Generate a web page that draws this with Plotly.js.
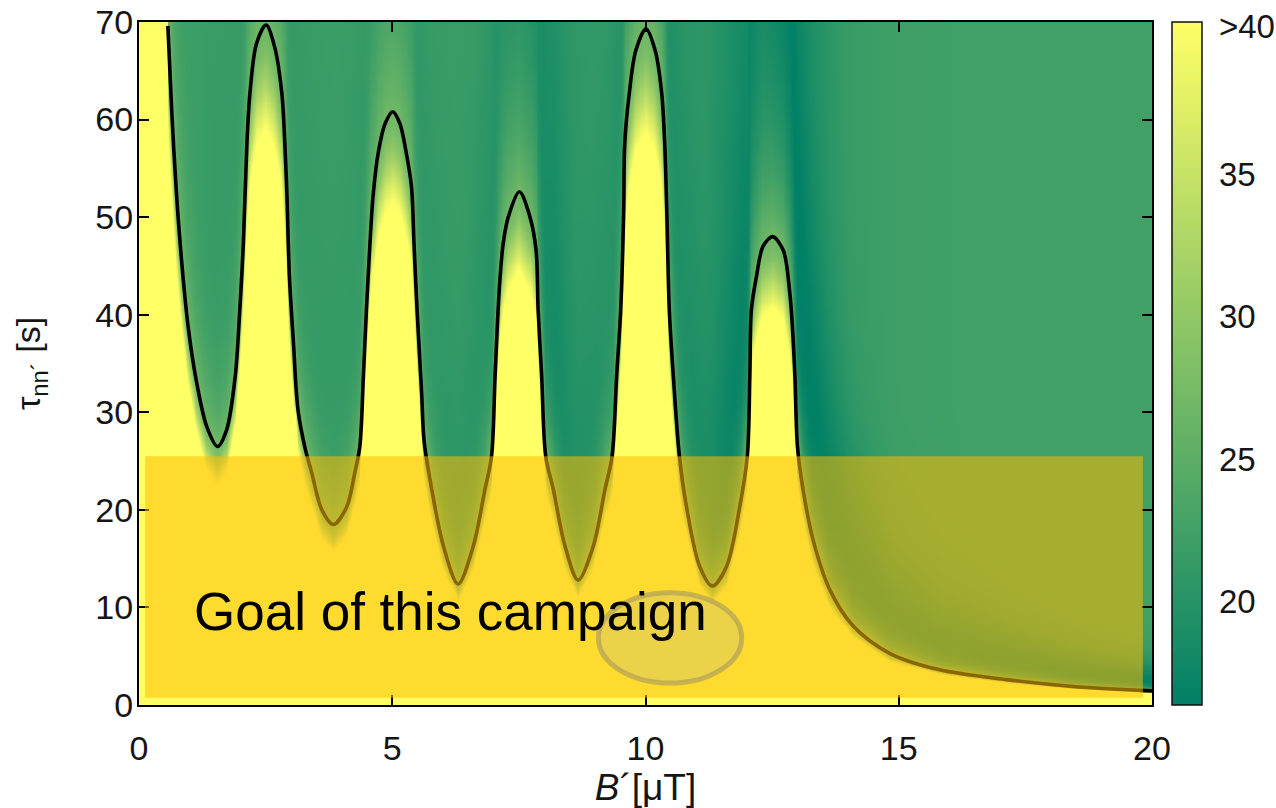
<!DOCTYPE html>
<html>
<head>
<meta charset="utf-8">
<script src="https://cdn.plot.ly/plotly-3.0.1.min.js"></script>
<style>
  html, body { margin: 0; padding: 0; background: #fff; }
  #chart { width: 1276px; height: 808px; }
</style>
</head>
<body>
<div id="chart"></div>
<script>
// Sensitivity boundary: tau_nn' limit versus B' (the black curve)
const curveB = [0.57, 0.645, 0.74, 0.84, 0.97, 1.14, 1.34, 1.55, 1.73, 1.90, 1.99, 2.06, 2.13, 2.19, 2.32, 2.51, 2.68, 2.82, 2.88, 2.92, 2.97, 3.05, 3.14, 3.28, 3.41, 3.61, 3.84, 4.10, 4.26, 4.36, 4.43, 4.49, 4.56, 4.62, 4.72, 4.86, 5.01, 5.15, 5.28, 5.38, 5.43, 5.49, 5.58, 5.63, 5.78, 6.01, 6.30, 6.60, 6.83, 6.96, 7.03, 7.09, 7.13, 7.19, 7.29, 7.51, 7.72, 7.84, 7.88, 7.95, 8.03, 8.18, 8.41, 8.67, 8.97, 9.20, 9.34, 9.43, 9.51, 9.57, 9.59, 9.68, 9.81, 10.01, 10.19, 10.32, 10.38, 10.42, 10.47, 10.55, 10.67, 10.81, 11.07, 11.32, 11.60, 11.86, 12.01, 12.06, 12.09, 12.19, 12.32, 12.51, 12.72, 12.85, 12.90, 12.95, 13.00, 13.11, 13.31, 13.64, 14.10, 14.82, 15.81, 17.13, 18.44, 19.76, 20.0];
const curveTau = [69.6, 61.0, 52.4, 45.6, 38.8, 33.0, 28.5, 26.5, 28.2, 33.7, 40.5, 47.3, 57.5, 62.7, 67.8, 69.7, 67.4, 62.7, 57.5, 52.4, 43.9, 37.1, 30.2, 26.3, 23.8, 20.0, 18.5, 20.3, 23.8, 26.5, 33.7, 40.5, 47.3, 52.1, 56.5, 59.6, 60.8, 59.6, 56.5, 53.1, 47.3, 40.5, 32.0, 27.0, 22.1, 16.3, 12.4, 16.3, 22.1, 25.5, 33.7, 40.5, 43.9, 47.3, 50.0, 52.6, 50.0, 46.6, 40.5, 33.7, 25.5, 22.1, 16.3, 12.8, 16.3, 22.1, 25.5, 33.7, 40.5, 50.7, 57.5, 62.7, 67.1, 69.3, 67.1, 62.7, 57.5, 50.7, 40.5, 33.7, 25.5, 20.3, 14.2, 12.2, 14.2, 20.3, 25.5, 33.7, 40.5, 43.9, 47.0, 48.0, 46.6, 42.2, 38.8, 33.7, 26.5, 22.1, 16.9, 11.8, 8.1, 5.3, 3.6, 2.6, 1.9, 1.5, 1.45];

// Colour-map level far above the boundary, per B'
const bgB     = [0, 1.0, 1.5, 2.0, 3.0, 4.0, 5.5, 6.5, 7.0, 7.9, 8.2, 8.6, 9.2, 10.6, 11.2, 11.6, 11.9, 12.3, 12.8, 13.1, 13.5, 14.0, 15.0, 20.0];
const bgLevel = [22.8, 22.6, 22.0, 22.0, 22.0, 22.0, 21.8, 21.6, 21.2, 20.2, 19.8, 20.8, 21.5, 21.0, 20.6, 19.4, 19.2, 20.5, 19.4, 19.2, 20.2, 21.5, 22.3, 22.5];

// Depth of the darker trough just outside the boundary, per B'
const dipB     = [0, 6, 8, 10, 12, 13, 14, 20];
const dipDepth = [0.5, 1.0, 1.5, 1.5, 2.2, 3.0, 4.2, 6.0];

// Colour bar labels
const cbLabelVals = [20, 25, 30, 35, 40.2];
const cbLabelText = ['20', '25', '30', '35', '>40'];
const cbMarkVals = [20, 25, 30, 35];
const xTicks = [0, 5, 10, 15, 20];
const yTicks = [0, 10, 20, 30, 40, 50, 60, 70];

// ---- field construction ----
function lerp(xs, ys, x) {
  if (x <= xs[0]) return ys[0];
  if (x >= xs[xs.length - 1]) return ys[ys.length - 1];
  let i = 1;
  while (xs[i] < x) i++;
  const t = (x - xs[i - 1]) / (xs[i] - xs[i - 1]);
  return ys[i - 1] + t * (ys[i] - ys[i - 1]);
}

const Z_MIN = 16.37, Z_MAX = 40.35;
const Z_TOP = 46, Z_EDGE = 27, R0 = 0.76, HALO = 0.2, DIPW = 0.7;
const gridX = [], gridY = [];
for (let i = 0; i <= 1000; i++) gridX.push(i * 0.02);
for (let j = 0; j <= 700; j++) gridY.push(j * 0.1);

const boundary = gridX.map(x => x < curveB[0] ? Infinity : lerp(curveB, curveTau, x));
const bgAt = gridX.map(x => lerp(bgB, bgLevel, x));
const dipAt = gridX.map(x => lerp(dipB, dipDepth, x));

const field = gridY.map(y => gridX.map((x, i) => {
  const r = y / boundary[i];
  if (r <= 1) {
    const t = Math.min(1, Math.max(0, (1 - r) / (1 - R0)));
    const s = t * t * (3 - 2 * t);
    return Z_EDGE + (Z_TOP - Z_EDGE) * s;
  }
  const bg = bgAt[i];
  const h = Math.exp(-(r - 1) / HALO);
  const u = (r - 1) / DIPW;
  const g = u * Math.exp(1 - u);
  return bg + (Z_EDGE - bg) * h - dipAt[i] * g;
}));

const font = 'Liberation Sans, Arial, Helvetica, sans-serif';

// plot-area geometry in pixels, used to place the colour bar, its marks and labels
const W = 1276, H = 808, ML = 139, MR = 124, MT = 22, MB = 103;
const plotW = W - ML - MR;
const CB_LEFT = 1172, CB_THICK = 30, CB_TICK = 6, CB_LABEL_GAP = 15;
const pxToPaperX = px => (px - ML) / plotW;
const valToPaperY = v => (v - Z_MIN) / (Z_MAX - Z_MIN);

const heat = {
  type: 'heatmap',
  x: gridX, y: gridY, z: field,
  zmin: Z_MIN, zmax: Z_MAX, zsmooth: false,
  colorscale: [[0, 'rgb(0,128,102)'], [1, 'rgb(255,255,102)']],
  hoverinfo: 'skip',
  colorbar: {
    thickness: CB_THICK, thicknessmode: 'pixels',
    len: 1, lenmode: 'fraction', y: 0, yanchor: 'bottom', ypad: 0,
    x: pxToPaperX(CB_LEFT), xanchor: 'left', xpad: 0,
    outlinewidth: 1.5, outlinecolor: '#111',
    ticks: '', showticklabels: false
  }
};

const line = {
  type: 'scatter', mode: 'lines',
  x: curveB, y: curveTau,
  line: { color: '#000', width: 3.6, shape: 'spline', smoothing: 0.9 },
  hoverinfo: 'skip', showlegend: false
};

const axisCommon = {
  showgrid: false, zeroline: false,
  showline: true, linecolor: '#000', linewidth: 2, mirror: 'allticks',
  ticks: 'inside', ticklen: 10, tickwidth: 2, tickcolor: '#000',
  tickfont: { family: font, size: 34, color: '#151515' }
};

// inside tick marks on both edges of the colour bar
const cbMarks = [];
cbMarkVals.forEach(v => {
  const yp = valToPaperY(v);
  [[CB_LEFT, CB_LEFT + CB_TICK], [CB_LEFT + CB_THICK - CB_TICK, CB_LEFT + CB_THICK]].forEach(([a, b]) => {
    cbMarks.push({ type: 'line', layer: 'above', xref: 'paper', yref: 'paper',
      x0: pxToPaperX(a), x1: pxToPaperX(b), y0: yp, y1: yp,
      line: { color: '#111', width: 1.5 } });
  });
});

const cbLabels = cbLabelVals.map((v, k) => ({
  xref: 'paper', yref: 'paper', x: pxToPaperX(CB_LEFT + CB_THICK + CB_LABEL_GAP), y: valToPaperY(v),
  xanchor: 'left', yanchor: 'middle', showarrow: false, text: cbLabelText[k],
  font: { family: font, size: 33, color: '#151515' }
}));

const layout = {
  width: W, height: H,
  margin: { l: ML, r: MR, t: MT, b: MB },
  paper_bgcolor: '#fff', plot_bgcolor: '#fff',
  showlegend: false,
  xaxis: Object.assign({}, axisCommon, {
    range: [0, 20], tickvals: xTicks, ticklabelstandoff: 12,
    title: { text: '<i>B</i>´[μT]', font: { family: font, size: 37, color: '#151515' }, standoff: 6 }
  }),
  yaxis: Object.assign({}, axisCommon, {
    range: [0, 70], tickvals: yTicks, ticklabelstandoff: -3,
    title: { text: 'τ<sub>nn´</sub> [s]', font: { family: font, size: 34, color: '#151515' }, standoff: 44 }
  }),
  shapes: [
    { type: 'rect', layer: 'above', xref: 'x', yref: 'y', x0: 0.12, x1: 19.82, y0: 0.74, y1: 25.5,
      fillcolor: 'rgba(255,186,0,0.54)', line: { width: 0 } },
    { type: 'circle', layer: 'above', xref: 'x', yref: 'y', x0: 9.07, x1: 11.90, y0: 2.25, y1: 11.51,
      fillcolor: 'rgba(200,195,120,0.35)', line: { color: 'rgba(150,140,100,0.5)', width: 5 } }
  ].concat(cbMarks),
  annotations: [
    { xref: 'x', yref: 'y', x: 1.05, y: 9.6, xanchor: 'left', yanchor: 'middle', showarrow: false,
      text: 'Goal of this campaign', font: { family: font, size: 53, color: '#000' } }
  ].concat(cbLabels)
};

Plotly.newPlot('chart', [heat, line], layout, { displayModeBar: false, staticPlot: true });
</script>
</body>
</html>
